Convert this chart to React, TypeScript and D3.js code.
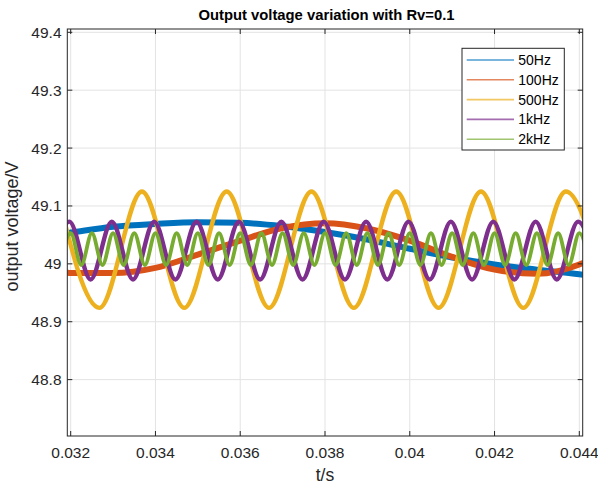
import React from "react";
import * as d3 from "d3";

// ---- data ----
const xTicks = [0.032, 0.034, 0.036, 0.038, 0.04, 0.042, 0.044];
const xTickLabels = ["0.032", "0.034", "0.036", "0.038", "0.04", "0.042", "0.044"];
const yTicks = [48.8, 48.9, 49, 49.1, 49.2, 49.3, 49.4];
const yTickLabels = ["48.8", "48.9", "49", "49.1", "49.2", "49.3", "49.4"];

const t50 = [0.0319, 0.032, 0.033, 0.034, 0.035, 0.036, 0.037, 0.038, 0.039, 0.04, 0.041, 0.042, 0.043, 0.044, 0.0441];
const v50 = [49.053, 49.054, 49.064, 49.069, 49.072, 49.071, 49.065, 49.055, 49.042, 49.026, 49.011, 48.999, 48.99, 48.982, 48.981];

const t100 = [0.0319, 0.032, 0.033, 0.034, 0.035, 0.036, 0.037, 0.038, 0.039, 0.04, 0.041, 0.042, 0.043, 0.044, 0.0441];
const v100 = [48.985, 48.984, 48.984, 48.993, 49.016, 49.04, 49.062, 49.07, 49.061, 49.04, 49.012, 48.99, 48.983, 48.999, 49.002];

const t500 = [0.03168, 0.03268, 0.03368, 0.03468, 0.03568, 0.03668, 0.03768, 0.03868, 0.03968, 0.04068, 0.04168, 0.04268, 0.04368, 0.04468];
const v500 = [49.125, 48.924, 49.125, 48.924, 49.125, 48.924, 49.125, 48.924, 49.125, 48.924, 49.125, 48.924, 49.125, 48.924];

const t1k = [0.03147, 0.03197, 0.03247, 0.03297, 0.03347, 0.03397, 0.03447, 0.03497, 0.03547, 0.03597, 0.03647, 0.03697, 0.03747, 0.03797, 0.03847, 0.03897, 0.03947, 0.03997, 0.04047, 0.04097, 0.04147, 0.04197, 0.04247, 0.04297, 0.04347, 0.04397, 0.04447];
const v1k = [48.973, 49.073, 48.973, 49.073, 48.973, 49.073, 48.973, 49.073, 48.973, 49.073, 48.973, 49.073, 48.973, 49.073, 48.973, 49.073, 48.973, 49.073, 48.973, 49.073, 48.973, 49.073, 48.973, 49.073, 48.973, 49.073, 48.973];

const t2k = [0.03175, 0.032, 0.03225, 0.0325, 0.03275, 0.033, 0.03325, 0.0335, 0.03375, 0.034, 0.03425, 0.0345, 0.03475, 0.035, 0.03525, 0.0355, 0.03575, 0.036, 0.03625, 0.0365, 0.03675, 0.037, 0.03725, 0.0375, 0.03775, 0.038, 0.03825, 0.0385, 0.03875, 0.039, 0.03925, 0.0395, 0.03975, 0.04, 0.04025, 0.0405, 0.04075, 0.041, 0.04125, 0.0415, 0.04175, 0.042, 0.04225, 0.0425, 0.04275, 0.043, 0.04325, 0.0435, 0.04375, 0.044, 0.04425];
const v2k = [48.998, 49.053, 48.998, 49.053, 48.998, 49.053, 48.998, 49.053, 48.998, 49.053, 48.998, 49.053, 48.998, 49.053, 48.998, 49.053, 48.998, 49.053, 48.998, 49.053, 48.998, 49.053, 48.998, 49.053, 48.998, 49.053, 48.998, 49.053, 48.998, 49.053, 48.998, 49.053, 48.998, 49.053, 48.998, 49.053, 48.998, 49.053, 48.998, 49.053, 48.998, 49.053, 48.998, 49.053, 48.998, 49.053, 48.998, 49.053, 48.998, 49.053, 48.998];

const seriesNames = ["50Hz", "100Hz", "500Hz", "1kHz", "2kHz"];
const seriesColors = ["#0072BD", "#D95319", "#EDB120", "#7E2F8E", "#77AC30"];
const seriesWidths = [6, 6, 4.4, 4.4, 3.8];
const seriesT = [t50, t100, t500, t1k, t2k];
const seriesV = [v50, v100, v500, v1k, v2k];

const W = 598;
const H = 488;
const M = { left: 67.3, right: 582.7, top: 29, bottom: 436 };
const FONT = "'Liberation Sans', Arial, Helvetica, sans-serif";

export default function App() {
  const x = d3.scaleLinear().domain([0.03192, 0.04408]).range([M.left, M.right]);
  const y = d3.scaleLinear().domain([48.7026, 49.4057]).range([M.bottom, M.top]);
  const axisColor = "#262626";
  const gridColor = "#e3e3e3";
  const tickLen = 5;

  const lines = seriesT.map((ts, i) => {
    const pts: [number, number][] = ts.map((t, j) => [t, seriesV[i][j]]);
    const gen = d3
      .line<[number, number]>()
      .x((d) => x(d[0]))
      .y((d) => y(d[1]))
      .curve(d3.curveMonotoneX);
    return gen(pts) || "";
  });

  const legX = 462;
  const legY = 48.3;
  const legW = 102.3;
  const legH = 101.7;

  return (
    <svg
      width={W}
      height={H}
      style={{ position: "absolute", left: 0, top: 0, background: "#fff" }}
      fontFamily={FONT}
    >
      <defs>
        <clipPath id="plotclip">
          <rect x={M.left} y={M.top} width={M.right - M.left} height={M.bottom - M.top} />
        </clipPath>
      </defs>
      <rect x={0} y={0} width={W} height={H} fill="#fff" />
      {/* grid */}
      {xTicks.map((t) => (
        <line key={"gx" + t} x1={x(t)} x2={x(t)} y1={M.top} y2={M.bottom} stroke={gridColor} strokeWidth={1} />
      ))}
      {yTicks.map((v) => (
        <line key={"gy" + v} x1={M.left} x2={M.right} y1={y(v)} y2={y(v)} stroke={gridColor} strokeWidth={1} />
      ))}
      {/* series */}
      <g clipPath="url(#plotclip)">
        {lines.map((d, i) => (
          <path key={i} d={d} fill="none" stroke={seriesColors[i]} strokeWidth={seriesWidths[i]} strokeLinejoin="round" />
        ))}
      </g>
      {/* box */}
      <rect x={M.left} y={M.top} width={M.right - M.left} height={M.bottom - M.top} fill="none" stroke={axisColor} strokeWidth={1} />
      {/* ticks */}
      {xTicks.map((t) => (
        <g key={"tx" + t}>
          <line x1={x(t)} x2={x(t)} y1={M.bottom} y2={M.bottom - tickLen} stroke={axisColor} />
          <line x1={x(t)} x2={x(t)} y1={M.top} y2={M.top + tickLen} stroke={axisColor} />
        </g>
      ))}
      {yTicks.map((v) => (
        <g key={"ty" + v}>
          <line x1={M.left} x2={M.left + tickLen} y1={y(v)} y2={y(v)} stroke={axisColor} />
          <line x1={M.right} x2={M.right - tickLen} y1={y(v)} y2={y(v)} stroke={axisColor} />
        </g>
      ))}
      {/* tick labels */}
      {xTicks.map((t, i) => (
        <text key={"lx" + t} x={x(t)} y={458} textAnchor="middle" fontSize={15.5} fill={axisColor}>
          {xTickLabels[i]}
        </text>
      ))}
      {yTicks.map((v, i) => (
        <text key={"ly" + v} x={61.5} y={y(v) + 5.5} textAnchor="end" fontSize={15.5} fill={axisColor}>
          {yTickLabels[i]}
        </text>
      ))}
      {/* axis labels */}
      <text x={(M.left + M.right) / 2} y={481} textAnchor="middle" fontSize={17.5} fill={axisColor}>
        t/s
      </text>
      <text
        transform={`translate(18, ${(M.top + M.bottom) / 2 - 6}) rotate(-90)`}
        textAnchor="middle"
        fontSize={18}
        fill={axisColor}
      >
        output voltage/V
      </text>
      {/* title */}
      <text x={326.5} y={20} textAnchor="middle" fontSize={14.8} fontWeight="bold" fill="#000">
        Output voltage variation with Rv=0.1
      </text>
      {/* legend */}
      <rect x={legX} y={legY} width={legW} height={legH} fill="#fff" stroke={axisColor} strokeWidth={1} />
      {seriesNames.map((name, i) => {
        const cy = 60 + i * 19.8;
        return (
          <g key={name}>
            <line x1={466.7} x2={514} y1={cy} y2={cy} stroke={seriesColors[i]} strokeWidth={1.6} strokeOpacity={0.7} />
            <text x={518.3} y={cy + 5} fontSize={14} fill="#000">
              {name}
            </text>
          </g>
        );
      })}
    </svg>
  );
}
